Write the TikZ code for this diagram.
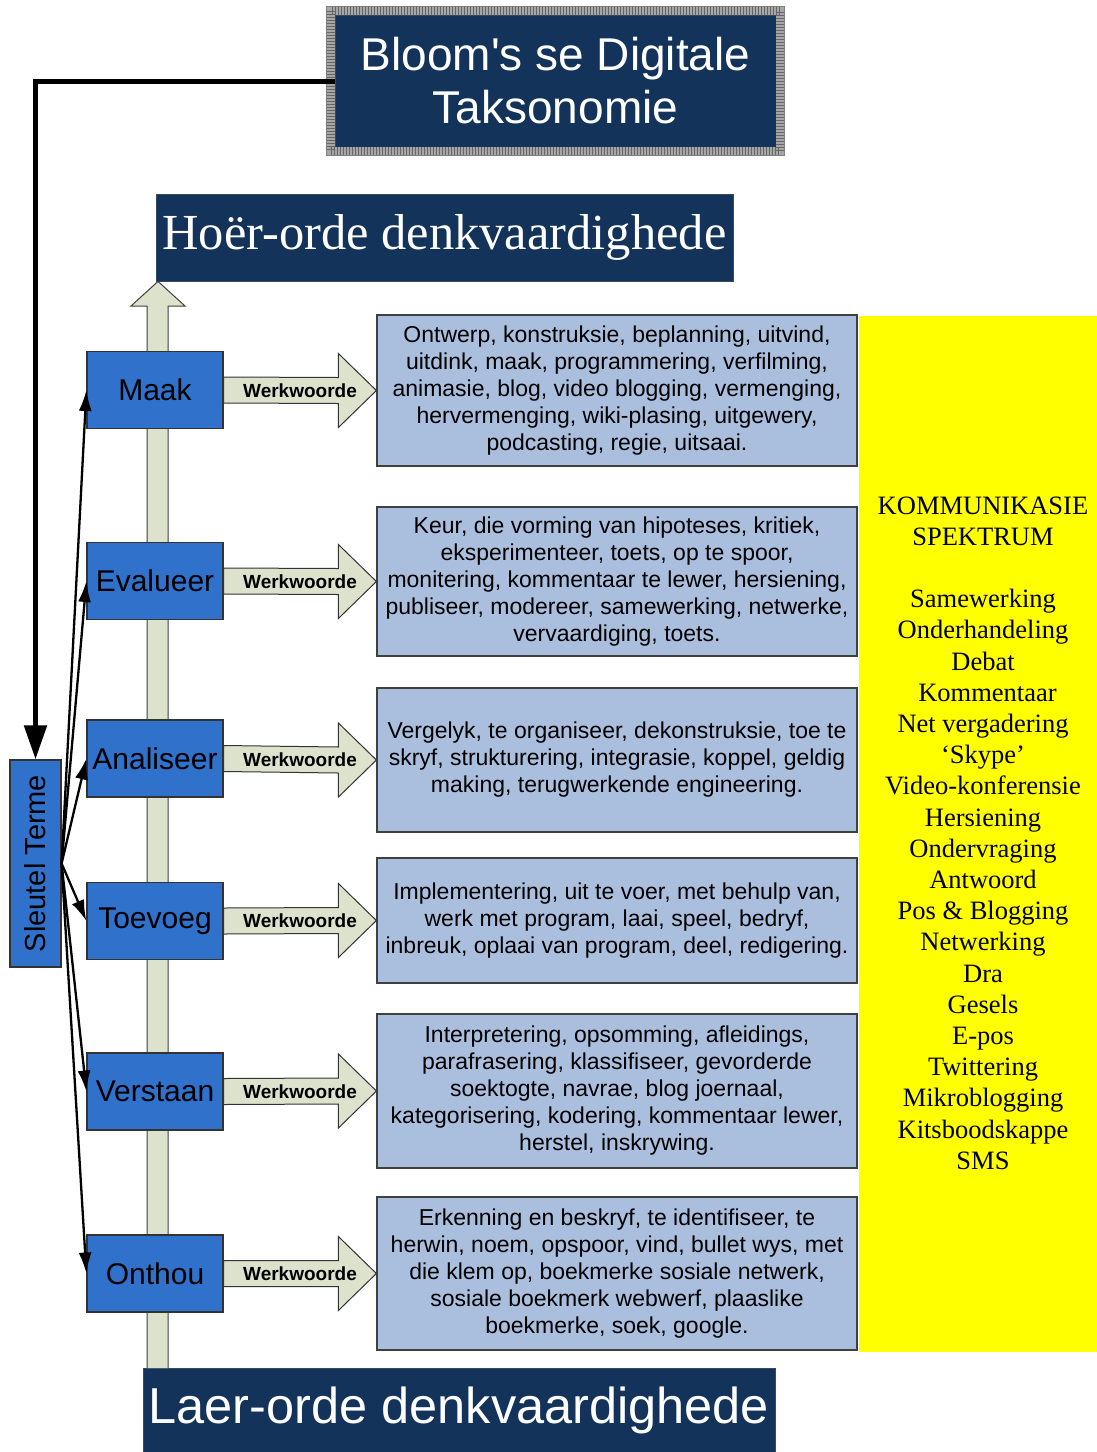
\documentclass[tikz,border=0pt]{standalone}
\usepackage{fontspec}
\setmainfont{Liberation Serif}
\newfontfamily\arialf{Liberation Sans}
\newfontfamily\timesf{Liberation Serif}
\usetikzlibrary{arrows.meta,calc}
\definecolor{navy}{RGB}{19,51,90}
\definecolor{keyblue}{RGB}{48,113,204}
\definecolor{verbblue}{RGB}{170,191,222}
\definecolor{beige}{RGB}{221,226,204}
\definecolor{yel}{RGB}{255,255,0}
\newcommand\wwarrow[2]{%
  \draw[verbarrow] ($(#1.east)+(0,-13)$) -- ($(#2.west)+(-38,-13)$) -- ($(#2.west)+(-38,-37)$)
    -- (#2.west) -- ($(#2.west)+(-38,37)$) -- ($(#2.west)+(-38,13)$) -- ($(#1.east)+(0,13)$) -- cycle;
  \node[wlabel] (#1w) at ($(#1.east)!0.5!(#2.west)$) {Werkwoorde};}
\begin{document}
\begin{tikzpicture}[x=1pt,y=-1pt,
  navybox/.style={fill=navy, draw=navy!70!gray, text=white, inner sep=0pt, line width=0.8pt},
  keybox/.style={fill=keyblue, draw=black!80, line width=1.2pt, minimum width=136pt, minimum height=77pt, inner sep=0pt, font=\arialf\fontsize{30}{36}\selectfont},
  verbbox/.style={fill=verbblue, draw=black!75, line width=1.2pt, minimum width=480pt, inner sep=0pt, align=center, font=\arialf\fontsize{23}{27}\selectfont},
  verbarrow/.style={fill=beige, draw=black!80, line width=1pt},
  wlabel/.style={font=\arialf\bfseries\fontsize{19}{22}\selectfont, inner sep=0pt},
  linkarrow/.style={line width=2.3pt, -{Latex[length=21pt,width=13pt]}},
]
\useasboundingbox (0,0) rectangle (1097,1452);
\fill[white] (0,0) rectangle (1097,1452);

% yellow panel
\fill[yel] (859,316) rectangle (1097,1352);
\node[align=center, inner sep=0pt, font=\timesf\fontsize{26.5}{31.2}\selectfont] (spec) at (983,833)
 {KOMMUNIKASIE\\ SPEKTRUM\\[31.2pt] Samewerking\\ Onderhandeling\\ Debat\\ \hspace*{9pt}Kommentaar\\ Net vergadering\\ ‘Skype’\\ Video-konferensie\\ Hersiening\\ Ondervraging\\ Antwoord\\ Pos \& Blogging\\ Netwerking\\ Dra\\ Gesels\\ E-pos\\ Twittering\\ Mikroblogging\\ Kitsboodskappe\\ SMS};

% title
\node[navybox, minimum width=441pt, minimum height=132pt, align=center,
  font=\arialf\fontsize{46}{53}\selectfont] (title) at (555.5,81) {Bloom's se Digitale\\Taksonomie};
\draw[gray!70, line width=8pt] ($(title.north west)+(-4,-4)$) rectangle ($(title.south east)+(4,4)$);
\draw[black!60, line width=8pt, dash pattern=on 1pt off 2pt] ($(title.north west)+(-4,-4)$) rectangle ($(title.south east)+(4,4)$);
\draw[black!50, line width=0.6pt] ($(title.north west)+(-8,-8)$) rectangle ($(title.south east)+(8,8)$);

% headers
\node[navybox, minimum width=577pt, minimum height=87pt, font=\timesf\fontsize{50.5}{60}\selectfont] (hoer) at (444.5,237.5) {Hoër-orde denkvaardighede};
\node[navybox, minimum width=632pt, minimum height=84pt, font=\arialf\fontsize{50.5}{60}\selectfont] (laer) at (459,1410) {Laer-orde denkvaardighede};

% central column arrow
\draw[fill=beige, draw=black!75, line width=1pt] (147,1368) -- (147,306) -- (131,306) -- (hoer.south -| 158,0) -- (185,306) -- (168,306) -- (168,1368);

% key boxes
\node[keybox] (maak) at (155,390) {Maak};
\node[keybox] (eval) at (155,581) {Evalueer};
\node[keybox] (anal) at (155,758.5) {Analiseer};
\node[keybox] (toev) at (155,921) {Toevoeg};
\node[keybox] (vers) at (155,1091.5) {Verstaan};
\node[keybox] (onth) at (155,1273.5) {Onthou};

% verb boxes
\node[verbbox, minimum height=151pt] (maakv) at (617,390.5) {Ontwerp, konstruksie, beplanning, uitvind,\\ uitdink, maak, programmering, verfilming,\\ animasie, blog, video blogging, vermenging,\\ hervermenging, wiki-plasing, uitgewery,\\ podcasting, regie, uitsaai.};
\node[verbbox, minimum height=149pt] (evalv) at (617,581.5) {Keur, die vorming van hipoteses, kritiek,\\ eksperimenteer, toets, op te spoor,\\ monitering, kommentaar te lewer, hersiening,\\ publiseer, modereer, samewerking, netwerke,\\ vervaardiging, toets.};
\node[verbbox, minimum height=144pt] (analv) at (617,760) {Vergelyk, te organiseer, dekonstruksie, toe te\\ skryf, strukturering, integrasie, koppel, geldig\\ making, terugwerkende engineering.};
\node[verbbox, minimum height=125pt] (toevv) at (617,920.5) {Implementering, uit te voer, met behulp van,\\ werk met program, laai, speel, bedryf,\\ inbreuk, oplaai van program, deel, redigering.};
\node[verbbox, minimum height=154pt] (versv) at (617,1091) {Interpretering, opsomming, afleidings,\\ parafrasering, klassifiseer, gevorderde\\ soektogte, navrae, blog joernaal,\\ kategorisering, kodering, kommentaar lewer,\\ herstel, inskrywing.};
\node[verbbox, minimum height=153pt] (onthv) at (617,1273.5) {Erkenning en beskryf, te identifiseer, te\\ herwin, noem, opspoor, vind, bullet wys, met\\ die klem op, boekmerke sosiale netwerk,\\ sosiale boekmerk webwerf, plaaslike\\ boekmerke, soek, google.};

% Werkwoorde arrows
\wwarrow{maak}{maakv}
\wwarrow{eval}{evalv}
\wwarrow{anal}{analv}
\wwarrow{toev}{toevv}
\wwarrow{vers}{versv}
\wwarrow{onth}{onthv}

% Sleutel Terme
\node[fill=keyblue, draw=black!80, line width=1.2pt, minimum width=207pt, minimum height=51pt, inner sep=0pt, rotate=90,
  font=\arialf\fontsize{29}{34}\selectfont] (sleutel) at (35.5,863.5) {Sleutel Terme};

\draw[line width=5pt, -{Triangle[length=34pt,width=22pt]}] (title.west) -| (sleutel.east);

\foreach \k in {maak,eval,anal,toev,vers,onth}
  \draw[linkarrow] (sleutel.south) -- (\k.west);
\end{tikzpicture}
\end{document}
